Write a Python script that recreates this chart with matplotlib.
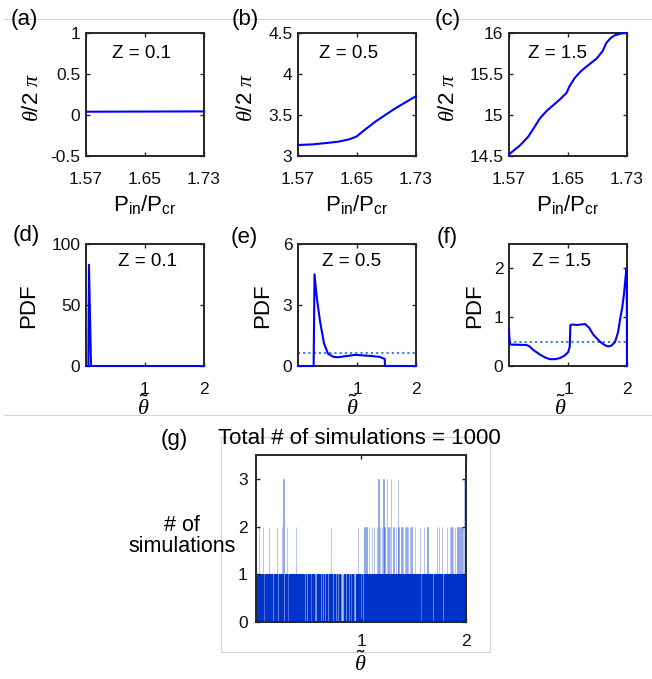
import numpy as np
import matplotlib
matplotlib.use("Agg")
import matplotlib.pyplot as plt
from matplotlib.lines import Line2D

plt.rcParams['font.family'] = ['Liberation Sans', 'DejaVu Sans']
plt.rcParams['mathtext.fontset'] = 'custom'
plt.rcParams['mathtext.rm'] = 'Liberation Sans'
plt.rcParams['mathtext.it'] = 'Liberation Serif:italic'
plt.rcParams['mathtext.bf'] = 'Liberation Sans:bold'

# ---------------- data ----------------
# row 1: theta/2pi vs Pin/Pcr
a_x = [1.57, 1.61, 1.65, 1.69, 1.73]
a_y = [0.040, 0.041, 0.042, 0.043, 0.044]

b_x = [1.57, 1.59, 1.61, 1.625, 1.64, 1.65, 1.655, 1.665, 1.675, 1.69, 1.70, 1.713, 1.73]
b_y = [3.134, 3.142, 3.160, 3.175, 3.205, 3.240, 3.280, 3.350, 3.420, 3.510, 3.570, 3.640, 3.730]

c_x = [1.57, 1.585, 1.596, 1.605, 1.612, 1.621, 1.630, 1.639, 1.648, 1.652, 1.659,
       1.667, 1.675, 1.689, 1.697, 1.702, 1.708, 1.713, 1.720, 1.727, 1.73]
c_y = [14.52, 14.63, 14.735, 14.86, 14.96, 15.05, 15.12, 15.19, 15.27, 15.35, 15.45,
       15.53, 15.59, 15.69, 15.78, 15.88, 15.94, 15.97, 15.99, 16.0, 16.0]

# row 2: PDF of theta-tilde
d_x = [0.0, 0.04, 0.05, 0.085, 2.0]
d_y = [0.0, 0.0, 83.0, 0.0, 0.0]

e_x = [0.0, 0.265, 0.28, 0.317, 0.37, 0.44, 0.51, 0.60, 0.68, 0.85, 0.97, 1.10,
       1.25, 1.38, 1.44, 1.47, 1.475, 2.0]
e_y = [0.0, 0.0, 4.51, 3.40, 2.26, 1.12, 0.60, 0.45, 0.43, 0.50, 0.55, 0.52,
       0.49, 0.45, 0.38, 0.35, 0.0, 0.0]
e_uniform = 0.63

f_x = [0.0, 0.005, 0.02, 0.30, 0.35, 0.41, 0.53, 0.62, 0.69, 0.78, 0.86, 0.95,
       1.005, 1.03, 1.04, 1.08, 1.15, 1.29, 1.36, 1.43, 1.54, 1.62, 1.68, 1.74,
       1.80, 1.85, 1.88, 1.92, 1.95, 1.99, 1.995, 2.0]
f_y = [0.75, 0.60, 0.44, 0.43, 0.40, 0.33, 0.23, 0.17, 0.14, 0.14, 0.16, 0.22,
       0.29, 0.40, 0.84, 0.85, 0.84, 0.86, 0.78, 0.64, 0.50, 0.43, 0.40, 0.42,
       0.50, 0.70, 0.94, 1.20, 1.49, 2.00, 2.00, 0.0]
f_uniform = 0.5

# panel g: histogram of 1000 simulations (bins of width 0.004); most bins hold 1
g_n_bins = 500
g_three_at = [0.260, 1.165, 1.213, 1.244, 1.286, 1.349, 1.980]
g_two_at = [0.030, 0.065, 0.125, 0.197, 0.244, 0.295, 0.383, 0.714, 0.975, 1.032,
            1.054, 1.079, 1.102, 1.124, 1.149, 1.181, 1.197, 1.222, 1.260, 1.276,
            1.308, 1.333, 1.356, 1.387, 1.403, 1.419, 1.435, 1.451, 1.467, 1.483,
            1.514, 1.562, 1.600, 1.632, 1.721, 1.743, 1.768, 1.816, 1.848, 1.863,
            1.879, 1.895, 1.917, 1.937, 1.959, 1.975, 1.990, 1.996]
g_zero_at = [0.080, 0.102, 0.140, 0.165, 0.180, 0.213, 0.230, 0.270, 0.310, 0.340,
             0.360, 0.390, 0.419, 0.430, 0.451, 0.470, 0.489, 0.500, 0.514, 0.530,
             0.552, 0.564, 0.578, 0.590, 0.610, 0.620, 0.641, 0.660, 0.673, 0.689,
             0.700, 0.725, 0.737, 0.752, 0.764, 0.784, 0.800, 0.812, 0.820, 0.832,
             0.848, 0.863, 0.879, 0.890, 0.895, 0.911, 0.920, 0.937, 0.945, 0.952,
             0.960, 0.990, 1.006, 1.020, 1.400, 1.550, 1.578, 1.625, 1.657, 1.689,
             1.700, 1.784, 1.800, 1.830, 1.864, 1.900]

# ---------------- figure ----------------
W, H = 652, 679
fig = plt.figure(figsize=(W / 100, H / 100), dpi=100)


def rect(l, t, r, b):
    return [l / W, 1 - b / H, (r - l) / W, (b - t) / H]


def ftext(x, y, s, **kw):
    kw.setdefault('ha', 'center')
    kw.setdefault('va', 'center')
    fig.text(x / W, 1 - y / H, s, **kw)


# faint gray frame lines of the composite
gray = '#d4d4d4'
for (x0, y0, x1, y1) in [(4, 19, 652, 19), (4, 415, 652, 415),
                         (221, 437, 490, 437), (221, 652, 490, 652),
                         (221, 437, 221, 652), (490, 437, 490, 652)]:
    fig.add_artist(Line2D([x0 / W, x1 / W], [1 - y0 / H, 1 - y1 / H],
                          color=gray, lw=0.8, transform=fig.transFigure, zorder=0))

line_blue = '#0000ff'
dot_blue = '#4a78d0'
spine_c = '#262626'
hist_blue = '#0033cc'


def style(ax):
    for s in ax.spines.values():
        s.set_color(spine_c)
        s.set_linewidth(1.4)
    ax.tick_params(direction='in', top=True, right=True, length=3, width=1,
                   color=spine_c, labelsize=12.5, labelcolor='#111111')
    ax.tick_params(axis='x', pad=11.5)
    ax.tick_params(axis='y', pad=4)


tsize = 13.5
lsize = 16

# row 1
top_axes = [
    ((86, 33, 204, 156), a_x, a_y, (-0.5, 1), [-0.5, 0, 0.5, 1], ['-0.5', '0', '0.5', '1'], 'Z = 0.1', 142, '(a)', 24, 33),
    ((298, 33, 416, 156), b_x, b_y, (3, 4.5), [3, 3.5, 4, 4.5], ['3', '3.5', '4', '4.5'], 'Z = 0.5', 349, '(b)', 245, 247),
    ((509, 33, 627, 156), c_x, c_y, (14.5, 16), [14.5, 15, 15.5, 16], ['14.5', '15', '15.5', '16'], 'Z = 1.5', 557, '(c)', 448, 448),
]
for (r, xs, ys, yl, yt, ytl, ztxt, zx, lab, labx, ylx) in top_axes:
    ax = fig.add_axes(rect(*r))
    ax.plot(xs, ys, color=line_blue, lw=1.5, clip_on=False, zorder=3)
    ax.set_xlim(1.57, 1.73)
    ax.set_ylim(*yl)
    ax.set_xticks([1.57, 1.65, 1.73])
    ax.set_xticklabels(['1.57', '1.65', '1.73'])
    ax.set_yticks(yt)
    ax.set_yticklabels(ytl)
    style(ax)
    ftext(zx, 54, ztxt, fontsize=tsize)
    ftext(labx, 20, lab, fontsize=lsize)
    ftext(ylx, 97, r'$\theta$/2 $\pi$', fontsize=lsize, rotation=90)
    cx = (r[0] + r[2]) / 2
    ftext(cx, 204, r'P$_{\mathrm{in}}$/P$_{\mathrm{cr}}$', fontsize=lsize)

# row 2
bot_axes = [
    ((86, 244, 204, 366), d_x, d_y, None, (0, 100), [0, 50, 100], 'Z = 0.1', 147, '(d)', 26, 236, 29, 143),
    ((298, 244, 416, 366), e_x, e_y, e_uniform, (0, 6), [0, 3, 6], 'Z = 0.5', 352, '(e)', 244, 238, 263, 352),
    ((509, 244, 627, 366), f_x, f_y, f_uniform, (0, 2.5), [0, 1, 2], 'Z = 1.5', 561, '(f)', 447, 238, 475, 560),
]
for (r, xs, ys, uni, yl, yt, ztxt, zx, lab, labx, laby, ylx, xlx) in bot_axes:
    ax = fig.add_axes(rect(*r))
    if uni is not None:
        ax.plot([0, 2], [uni, uni], color=dot_blue, lw=1.5, ls=(0, (1, 1.5)))
    ax.plot(xs, ys, color=line_blue, lw=1.5, clip_on=False, zorder=3)
    ax.set_xlim(0, 2)
    ax.set_ylim(*yl)
    ax.set_xticks([1, 2])
    ax.set_xticklabels(['1', '2'])
    ax.set_yticks(yt)
    ax.set_yticklabels([str(v) for v in yt])
    style(ax)
    ftext(zx, 261, ztxt, fontsize=tsize)
    ftext(labx, laby, lab, fontsize=lsize)
    ftext(ylx, 306, 'PDF', fontsize=lsize, rotation=90)
    ftext(xlx, 408, r'$\tilde{\theta}$', fontsize=lsize)

# panel g
edges = np.linspace(0, 2, g_n_bins + 1)
centers = 0.5 * (edges[:-1] + edges[1:])
bw = edges[1] - edges[0]
counts = np.ones(g_n_bins)
for v in g_zero_at:
    counts[min(int(v / 2 * g_n_bins), g_n_bins - 1)] = 0
for v in g_two_at:
    counts[min(int(v / 2 * g_n_bins), g_n_bins - 1)] = 2
for v in g_three_at:
    counts[min(int(v / 2 * g_n_bins), g_n_bins - 1)] = 3

axg = fig.add_axes(rect(256, 455, 466, 622))
# translucent bars (show as thin light stripes above the dense level)
axg.bar(centers, counts, width=bw, color=hist_blue, alpha=0.35,
        edgecolor=hist_blue, linewidth=0.6, zorder=1)
# dense body of the histogram
axg.stairs(np.minimum(counts, 1), edges, fill=True, color=hist_blue, lw=0, zorder=1.5)
axg.set_xlim(0, 2)
axg.set_ylim(0, 3.5)
axg.set_xticks([1, 2])
axg.set_xticklabels(['1', '2'])
axg.set_yticks([0, 1, 2, 3])
axg.set_yticklabels(['0', '1', '2', '3'])
style(axg)
axg.tick_params(axis='y', pad=6)
axg.tick_params(axis='x', pad=9)
ftext(359, 439, 'Total # of simulations = 1000', fontsize=lsize)
ftext(174, 439, '(g)', fontsize=lsize)
ftext(182, 536, '# of\nsimulations', fontsize=15.5, linespacing=1.0)
ftext(360, 664, r'$\tilde{\theta}$', fontsize=lsize)

fig.savefig('out.png', dpi=100)
